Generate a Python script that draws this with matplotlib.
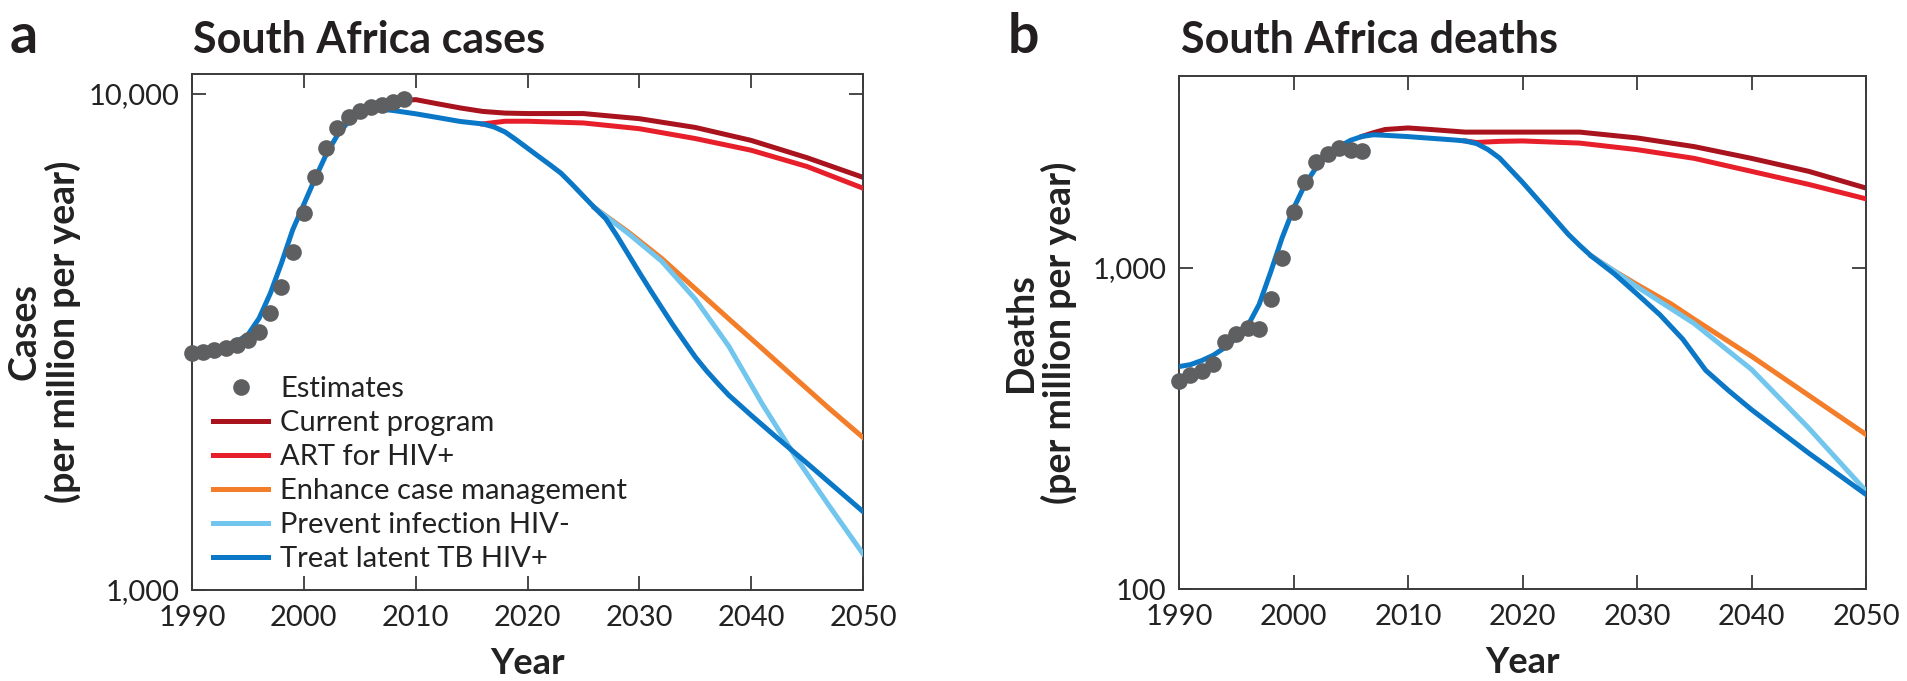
import matplotlib
matplotlib.use("Agg")
import matplotlib.pyplot as plt
from matplotlib.ticker import FixedLocator, NullLocator

plt.rcParams['font.family'] = ['Lato', 'DejaVu Sans']

# ---------------- data: cases (per million per year) ----------------
est_cases_years = list(range(1990, 2010))
est_cases = [3008, 3022, 3048, 3070, 3119, 3192, 3318, 3614, 4077, 4797,
             5745, 6809, 7798, 8531, 9000, 9250, 9400, 9500, 9620, 9770]

tlt_cases_years = [1990, 1992, 1993, 1994, 1995, 1996, 1997, 1998, 1999, 2000,
                   2001, 2002, 2003, 2004, 2005, 2006, 2007, 2008, 2010, 2012,
                   2014, 2016, 2017, 2018, 2019, 2020, 2021, 2022, 2023, 2024,
                   2025, 2026, 2027, 2028, 2029, 2030, 2031, 2032, 2033, 2034,
                   2035, 2036, 2037, 2038, 2040, 2042, 2045, 2050]
tlt_cases = [3000, 3030, 3080, 3170, 3270, 3530, 3960, 4560, 5320, 5990,
             6750, 7550, 8260, 8800, 9130, 9260, 9310, 9260, 9120, 8960,
             8800, 8700, 8580, 8380, 8080, 7775, 7480, 7200, 6920, 6570,
             6223, 5896, 5602, 5175, 4753, 4365, 4018, 3707, 3423, 3176,
             2950, 2767, 2611, 2470, 2250, 2056, 1801, 1439]

cur_cases_years = [2007, 2008, 2009, 2010, 2012, 2014, 2016, 2018, 2020, 2025,
                   2030, 2035, 2040, 2045, 2050]
cur_cases = [9310, 9500, 9700, 9740, 9550, 9370, 9220, 9150, 9130, 9130,
             8915, 8560, 8060, 7437, 6790]

art_cases_years = [2016, 2018, 2020, 2025, 2030, 2035, 2040, 2045, 2050]
art_cases = [8700, 8810, 8810, 8740, 8510, 8130, 7700, 7140, 6457]

ecm_cases_years = [2026, 2029, 2032, 2035, 2038, 2041, 2044, 2047, 2050]
ecm_cases = [5896, 5270, 4660, 4050, 3520, 3065, 2665, 2320, 2030]

pih_cases_years = [2026, 2029, 2032, 2035, 2038, 2041, 2044, 2047, 2050]
pih_cases = [5896, 5236, 4600, 3860, 3100, 2370, 1850, 1475, 1183]

# ---------------- data: deaths (per million per year) ----------------
est_deaths_years = list(range(1990, 2007))
est_deaths = [443, 465, 477, 501, 590, 625, 648, 646, 800, 1075,
              1498, 1853, 2136, 2258, 2358, 2332, 2320]

tlt_deaths_years = [1990, 1991, 1992, 1993, 1994, 1995, 1996, 1997, 1998, 1999,
                    2000, 2001, 2002, 2003, 2004, 2005, 2006, 2007, 2008, 2010,
                    2012, 2014, 2015, 2016, 2017, 2018, 2020, 2022, 2024, 2025,
                    2026, 2028, 2030, 2032, 2034, 2036, 2038, 2040, 2045, 2050]
tlt_deaths = [493, 500, 515, 535, 565, 605, 660, 770, 970, 1240,
              1530, 1820, 2060, 2240, 2390, 2500, 2570, 2600, 2590, 2566,
              2535, 2505, 2487, 2440, 2337, 2200, 1849, 1535, 1273, 1175,
              1090, 960, 830, 715, 600, 480, 415, 362, 265, 197]

cur_deaths_years = [2006, 2007, 2008, 2010, 2012, 2015, 2020, 2025, 2030, 2035,
                    2040, 2045, 2050]
cur_deaths = [2570, 2640, 2700, 2730, 2700, 2650, 2650, 2650, 2542, 2388,
              2195, 2000, 1774]

art_deaths_years = [2015, 2016, 2018, 2020, 2025, 2030, 2035, 2040, 2045, 2050]
art_deaths = [2487, 2460, 2480, 2487, 2449, 2337, 2195, 2000, 1821, 1642]

ecm_deaths_years = [2026, 2028, 2030, 2033, 2035, 2040, 2045, 2050]
ecm_deaths = [1090, 980, 888, 772, 692, 531, 401, 303]

pih_deaths_years = [2026, 2028, 2030, 2035, 2040, 2045, 2050]
pih_deaths = [1090, 980, 874, 671, 483, 317, 202]

labels = ["Estimates", "Current program", "ART for HIV+", "Enhance case management",
          "Prevent infection HIV-", "Treat latent TB HIV+"]
colors = {"est": "#5e5f61", "cur": "#a8131e", "art": "#e61f2b", "ecm": "#f47d2a",
          "pih": "#72c6ee", "tlt": "#0a77c7"}

xticks = [1990, 2000, 2010, 2020, 2030, 2040, 2050]

W, H = 1907, 681
fig = plt.figure(figsize=(W / 100, H / 100), dpi=100)
ax1 = fig.add_axes([192 / W, 1 - 590 / H, (863 - 192) / W, (590 - 74) / H])
ax2 = fig.add_axes([1179 / W, 1 - 589 / H, (1866 - 1179) / W, (589 - 76) / H])

LW = 3.6
TICK_FS = 21
LEG_FS = 21
LAB_FS = 27


def draw(ax, est_y, est_v, cur, art, ecm, pih, tlt):
    hs = []
    hs.append(ax.plot(cur[0], cur[1], color=colors["cur"], lw=LW, zorder=2)[0])
    hs.append(ax.plot(art[0], art[1], color=colors["art"], lw=LW, zorder=3)[0])
    hs.append(ax.plot(ecm[0], ecm[1], color=colors["ecm"], lw=LW, zorder=4)[0])
    hs.append(ax.plot(pih[0], pih[1], color=colors["pih"], lw=LW, zorder=5)[0])
    hs.append(ax.plot(tlt[0], tlt[1], color=colors["tlt"], lw=LW, zorder=6)[0])
    e = ax.plot(est_y, est_v, 'o', color=colors["est"], ms=12, mew=0, zorder=7,
                clip_on=False)[0]
    ax.set_yscale('log')
    ax.set_xlim(1990, 2050)
    ax.xaxis.set_major_locator(FixedLocator(xticks))
    ax.set_xticklabels([str(x) for x in xticks])
    ax.yaxis.set_minor_locator(NullLocator())
    ax.tick_params(axis='both', which='major', direction='in', length=10,
                   width=1.3, color='#3a3a3a', labelsize=TICK_FS,
                   labelcolor='#222222', top=True, right=True)
    ax.tick_params(axis='x', pad=10.5)
    ax.tick_params(axis='y', pad=9)
    for s in ax.spines.values():
        s.set_linewidth(1.4)
        s.set_color('#3a3a3a')
    ax.set_xlabel("Year", fontsize=26, fontweight='bold', labelpad=12,
                  color='#222222')
    return [e] + hs


h = draw(ax1, est_cases_years, est_cases,
         (cur_cases_years, cur_cases), (art_cases_years, art_cases),
         (ecm_cases_years, ecm_cases), (pih_cases_years, pih_cases),
         (tlt_cases_years, tlt_cases))
ax1.set_ylim(1000, 10970)
ax1.set_yticks([1000, 10000])
ax1.set_yticklabels(["1,000", "10,000"])
ax1.yaxis.set_minor_locator(NullLocator())
ax1.set_ylabel("Cases\n(per million per year)", fontsize=LAB_FS,
               fontweight='bold', color='#222222', linespacing=1.1)
ax1.yaxis.set_label_coords(-0.1654, 0.5)

draw(ax2, est_deaths_years, est_deaths,
     (cur_deaths_years, cur_deaths), (art_deaths_years, art_deaths),
     (ecm_deaths_years, ecm_deaths), (pih_deaths_years, pih_deaths),
     (tlt_deaths_years, tlt_deaths))
ax2.set_ylim(100, 3963)
ax2.set_yticks([100, 1000])
ax2.set_yticklabels(["100", "1,000"])
ax2.yaxis.set_minor_locator(NullLocator())
ax2.set_ylabel("Deaths\n(per million per year)", fontsize=LAB_FS,
               fontweight='bold', color='#222222', linespacing=1.1)
ax2.yaxis.set_label_coords(-0.148, 0.5)

ax1.legend(h, labels, loc='upper left', bbox_to_anchor=(0.031, 0.414),
           frameon=False, fontsize=LEG_FS, handlelength=1.9,
           handletextpad=0.4, labelspacing=0.27, borderpad=0, borderaxespad=0,
           labelcolor='#222222')

fig.text(10 / W, 1 - 53 / H, "a", fontsize=40, fontweight='bold', color='#231f20')
fig.text(1008 / W, 1 - 53 / H, "b", fontsize=40, fontweight='bold', color='#231f20')
fig.text(193 / W, 1 - 53 / H, "South Africa cases", fontsize=31,
         fontweight='bold', color='#231f20')
fig.text(1181 / W, 1 - 53 / H, "South Africa deaths", fontsize=31,
         fontweight='bold', color='#231f20')

fig.savefig("out.png", dpi=100, facecolor='white')
